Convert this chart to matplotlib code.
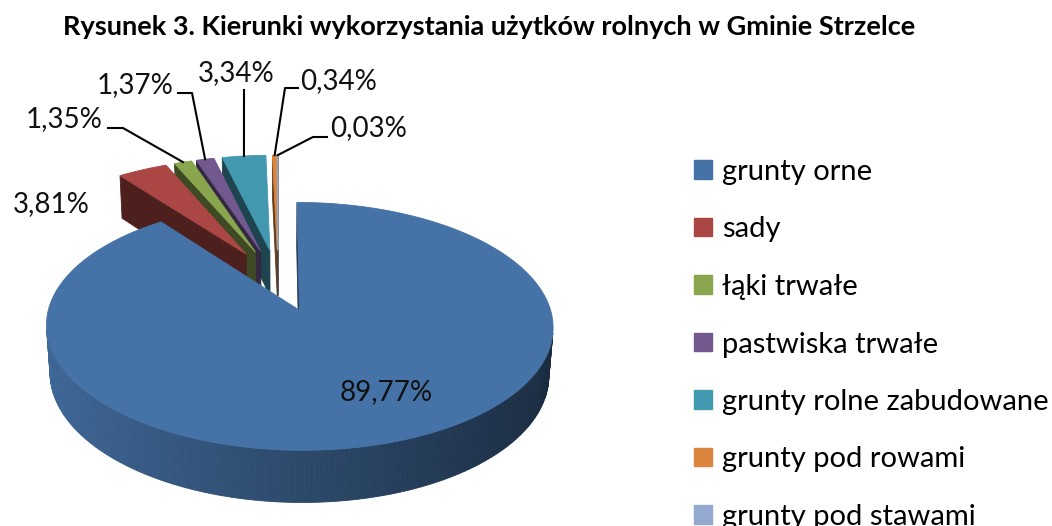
import numpy as np
import matplotlib
matplotlib.use("Agg")
import matplotlib.pyplot as plt
from matplotlib.patches import Polygon, Patch
from matplotlib.colors import to_rgb

plt.rcParams["font.family"] = ["Lato", "DejaVu Sans"]

title = "Rysunek 3. Kierunki wykorzystania użytków rolnych w Gminie Strzelce"
categories = ["grunty orne", "sady", "łąki trwałe", "pastwiska trwałe",
              "grunty rolne zabudowane", "grunty pod rowami", "grunty pod stawami"]
shares = [89.77, 3.81, 1.35, 1.37, 3.34, 0.34, 0.03]
colors = ["#4572A7", "#AA4643", "#89A54E", "#71588F", "#4198AF", "#DB843D", "#93A9CF"]

# label layout in pixels: text centre and leader line start (None -> no leader)
label_xy = [(386, 392), (51, 204), (64, 119), (135, 85), (236, 73), (339, 81), (369, 128)]
leaders = [None, None, [(108, 128), (123, 128)], [(178, 93), (192, 93)],
           [(244, 90)], [(298, 88), (285, 88)], [(327, 137), (313, 137)]]

W, H = 1052, 526
# 3d pie view
cx, cy = 278, 280
k = 243
phi = np.radians(28)
D = 7.0
depth = 0.22
explode = 0.27
cam = np.array([0, -D * np.cos(phi), D * np.sin(phi)])


def proj(X, Y, Z):
    dd = 1 + (Y * np.cos(phi) - Z * np.sin(phi)) / D
    return cx + k * X / dd, cy - k * (Y * np.sin(phi) + Z * np.cos(phi)) / dd


def shade(c, f):
    return tuple(np.clip(np.array(to_rgb(c)) * f, 0, 1))


fig = plt.figure(figsize=(W / 100, H / 100), dpi=100)
ax = fig.add_axes([0, 0, 1, 1])
ax.set_xlim(0, W)
ax.set_ylim(H, 0)
ax.axis("off")

edges = np.cumsum([0] + shares) / sum(shares) * 2 * np.pi
walls = []
tops = []
rim_mid = []
for i in range(len(shares)):
    t0, t1 = edges[i], edges[i + 1]
    m = (t0 + t1) / 2
    ox, oy = explode * np.sin(m), explode * np.cos(m)

    def rim(t, z):
        return proj(ox + np.sin(t), oy + np.cos(t), z)

    rim_mid.append(rim(m, 0))

    # outer curved wall, in small pieces
    n = max(2, int(np.degrees(t1 - t0)) + 1)
    ts = np.linspace(t0, t1, n + 1)
    for a, b in zip(ts[:-1], ts[1:]):
        c = (a + b) / 2
        nrm = np.array([np.sin(c), np.cos(c), 0])
        p = np.array([ox + np.sin(c), oy + np.cos(c), -depth / 2])
        if nrm @ (cam - p) > 0:
            poly = [rim(a, 0), rim(b, 0), rim(b, -depth), rim(a, -depth)]
            walls.append((np.linalg.norm(cam - p), poly, shade(colors[i], 0.64 - 0.27 * np.sin(c))))

    # flat cut faces at both ends
    for t, nrm in [(t0, np.array([-np.cos(t0), np.sin(t0), 0])),
                   (t1, np.array([np.cos(t1), -np.sin(t1), 0]))]:
        p = np.array([ox + 0.5 * np.sin(t), oy + 0.5 * np.cos(t), -depth / 2])
        if nrm @ (cam - p) > 0:
            poly = [proj(ox, oy, 0), rim(t, 0), rim(t, -depth), proj(ox, oy, -depth)]
            walls.append((np.linalg.norm(cam - p), poly, shade(colors[i], 0.45)))

    arc = np.linspace(t0, t1, n * 2 + 2)
    tops.append(([proj(ox, oy, 0)] + [rim(t, 0) for t in arc], colors[i]))

for _, poly, col in sorted(walls, key=lambda w: -w[0]):
    ax.add_patch(Polygon(poly, closed=True, facecolor=col, edgecolor=col, lw=0.6))
for poly, col in tops:
    ax.add_patch(Polygon(poly, closed=True, facecolor=col, edgecolor=col, lw=0.6))

# data labels
for i, v in enumerate(shares):
    lab = f"{v:.2f}".replace(".", ",") + "%"
    x, y = label_xy[i]
    ax.text(x, y, lab, ha="center", va="center", fontsize=20, color="#111111")
    if leaders[i] is not None:
        pts = leaders[i] + [rim_mid[i]]
        ax.plot([p[0] for p in pts], [p[1] for p in pts], color="black", lw=1.5)

ax.text(489, 27, title, ha="center", va="center", fontsize=19.5, fontweight="bold")

handles = [Patch(facecolor=c, edgecolor=c) for c in colors]
ax.legend(handles, categories, loc="upper left", bbox_to_anchor=(694 / W, 1 - 159 / H),
          frameon=False, fontsize=21, handlelength=0.6, handleheight=0.6,
          handletextpad=0.35, labelspacing=1.08, borderpad=0, borderaxespad=0)

fig.savefig("out.png", dpi=100)
